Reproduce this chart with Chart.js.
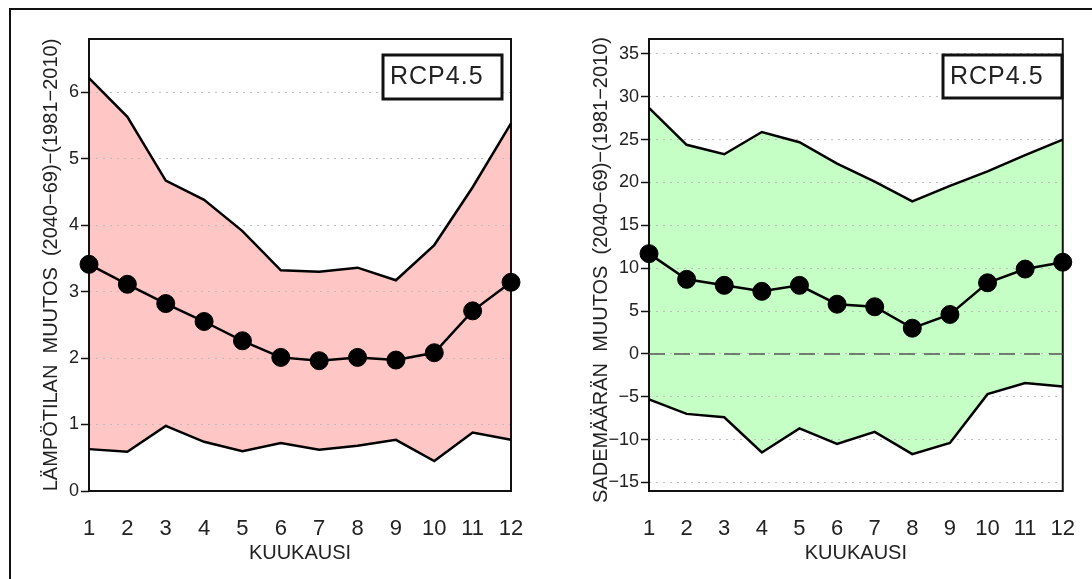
<!DOCTYPE html>
<html>
<head>
<meta charset="utf-8">
<script src="https://cdn.jsdelivr.net/npm/chart.js@4.4.0/dist/chart.umd.min.js"></script>
<style>
  body { margin: 0; background: #fff; }
  #frame { position: absolute; left: 9px; top: 8px; width: 1083px; height: 571px;
           border-top: 2px solid #111; border-left: 2px solid #111; }
  canvas { position: absolute; top: 0; }
</style>
</head>
<body>
<div id="frame"></div>
<canvas id="temp" width="546" height="579" style="left:0"></canvas>
<canvas id="rain" width="546" height="579" style="left:546px"></canvas>
<script>
// kuukaudet
const months = ['1', '2', '3', '4', '5', '6', '7', '8', '9', '10', '11', '12'];

// lämpötila (°C)
const tempUpper = [6.21, 5.63, 4.67, 4.38, 3.91, 3.32, 3.30, 3.36, 3.17, 3.70, 4.57, 5.53];
const tempMean  = [3.41, 3.11, 2.82, 2.55, 2.26, 2.01, 1.96, 2.01, 1.97, 2.08, 2.71, 3.14];
const tempLower = [0.63, 0.59, 0.98, 0.74, 0.60, 0.72, 0.62, 0.68, 0.77, 0.45, 0.88, 0.77];

// sademäärä (%)
const rainUpper = [28.7, 24.4, 23.3, 25.9, 24.7, 22.2, 20.1, 17.8, 19.6, 21.3, 23.2, 25.0];
const rainMean  = [11.7, 8.7, 8.0, 7.3, 8.0, 5.8, 5.5, 3.0, 4.6, 8.3, 9.9, 10.7];
const rainLower = [-5.3, -7.0, -7.4, -11.5, -8.7, -10.5, -9.1, -11.7, -10.4, -4.7, -3.4, -3.8];
const zeroLine  = [0, 0, 0, 0, 0, 0, 0, 0, 0, 0, 0, 0];

const FONT = '"Liberation Sans", Arial, sans-serif';

const decor = {
    id: 'decor',
    beforeDatasetsDraw(chart, args, opts) {
        const a = chart.chartArea;
        const ctx = chart.ctx;
        ctx.save();
        ctx.strokeStyle = '#111';
        ctx.lineWidth = 2;
        ctx.strokeRect(a.left, a.top, a.right - a.left, a.bottom - a.top);
        ctx.restore();
    },
    afterDraw(chart, args, opts) {
        const ctx = chart.ctx;
        ctx.save();
        // RCP laatikko
        ctx.fillStyle = '#fff';
        ctx.fillRect(opts.boxX, opts.boxY, opts.boxW, opts.boxH);
        ctx.strokeStyle = '#111';
        ctx.lineWidth = 3;
        ctx.strokeRect(opts.boxX, opts.boxY, opts.boxW, opts.boxH);
        ctx.fillStyle = '#222';
        ctx.font = '25px ' + FONT;
        ctx.letterSpacing = '1px';
        ctx.textBaseline = 'alphabetic';
        ctx.textAlign = 'left';
        ctx.fillText('RCP4.5', opts.boxX + 7, opts.boxY + 29);
        ctx.letterSpacing = '0px';
        // y-akselin otsikko
        ctx.translate(opts.titleX, opts.titleY);
        ctx.rotate(-Math.PI / 2);
        ctx.font = '20px ' + FONT;
        ctx.textAlign = 'center';
        ctx.textBaseline = 'middle';
        ctx.fillText(opts.title, 0, 0);
        ctx.restore();
    }
};

function makeChart(id, upper, mean, lower, colour, yMin, yMax, yStep, axisW, padRight, withZero, deco) {
    const datasets = [
        { data: mean, borderColor: '#000', backgroundColor: '#000', borderWidth: 2.5,
          pointRadius: 9, pointBorderWidth: 1, pointBackgroundColor: '#000', fill: false, clip: false },
        { data: upper, borderColor: '#000', borderWidth: 2.5, pointRadius: 0,
          fill: '+1', backgroundColor: colour },
        { data: lower, borderColor: '#000', borderWidth: 2.5, pointRadius: 0, fill: false }
    ];
    if (withZero) {
        datasets.push({ data: zeroLine, borderColor: '#555', borderWidth: 1.5, borderDash: [16, 9],
                        pointRadius: 0, fill: false });
    }
    return new Chart(document.getElementById(id), {
        type: 'line',
        data: { labels: months, datasets: datasets },
        options: {
            responsive: false,
            animation: false,
            layout: { padding: { top: 39, right: padRight, left: 0, bottom: 0 } },
            plugins: {
                legend: { display: false },
                tooltip: { enabled: false },
                filler: { drawTime: 'beforeDraw' },
                decor: deco
            },
            scales: {
                x: {
                    type: 'category',
                    offset: false,
                    grid: { display: false },
                    border: { display: false },
                    ticks: { color: '#222', padding: 17, maxRotation: 0, autoSkip: false,
                             font: { family: FONT, size: 22 } },
                    title: { display: true, text: 'KUUKAUSI', color: '#222',
                             font: { family: FONT, size: 20 }, padding: { top: 0, bottom: 14 } },
                    afterFit(s) { s.height = 88; }
                },
                y: {
                    min: yMin,
                    max: yMax,
                    grid: { color: '#bdbdbd', lineWidth: 1, tickColor: '#111', tickLength: 8, tickWidth: 1.5 },
                    border: { display: false, dash: [2, 5] },
                    ticks: { stepSize: yStep, includeBounds: false, padding: 2, color: '#222',
                             font: { family: FONT, size: 18 },
                             callback: v => String(v).replace('-', '\u2212') },
                    afterFit(s) { s.width = axisW; }
                }
            }
        },
        plugins: [decor]
    });
}

makeChart('temp', tempUpper, tempMean, tempLower, '#ffc6c6', 0, 6.8, 1, 89, 35, false, {
    boxX: 383, boxY: 55, boxW: 119, boxH: 44,
    titleX: 51, titleY: 265,
    title: 'LÄMPÖTILAN  MUUTOS  (2040\u221269)\u2212(1981\u22122010)'
});

makeChart('rain', rainUpper, rainMean, rainLower, '#c6ffc6', -16, 36.75, 5, 103, 21, true, {
    boxX: 397, boxY: 55, boxW: 119, boxH: 43,
    titleX: 55, titleY: 270,
    title: 'SADEMÄÄRÄN  MUUTOS  (2040\u221269)\u2212(1981\u22122010)'
});
</script>
</body>
</html>
